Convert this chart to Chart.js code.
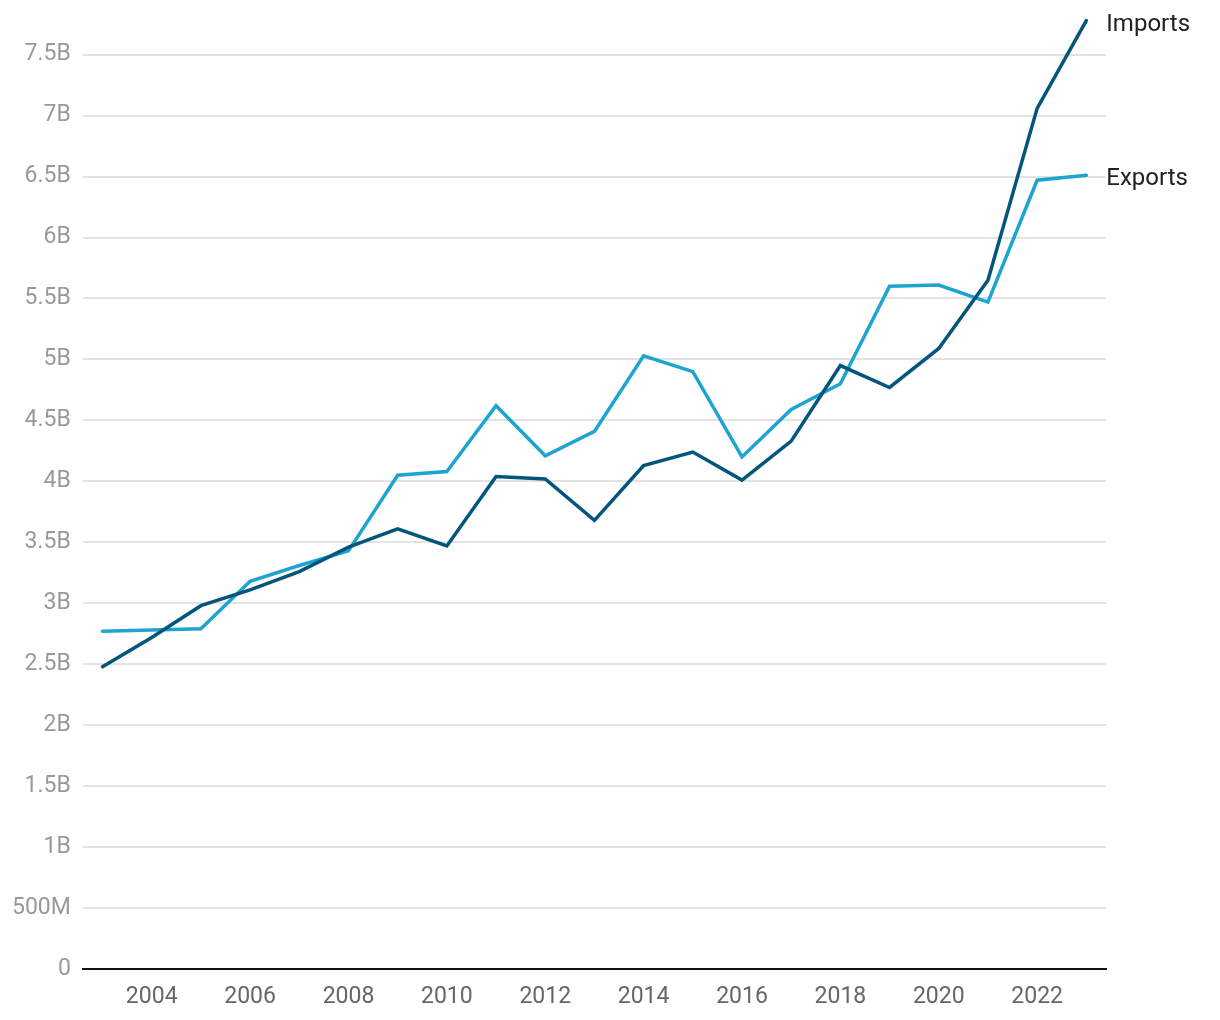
<!DOCTYPE html><html lang="en"><head><meta charset="UTF-8">
<title>Imports and Exports</title>
<script src="https://cdn.jsdelivr.net/npm/chart.js"></script>
<style>
    body {
        margin: 0;
        background: white;
    }
    .wrap {
        width: 1220px;
        height: 1020px;
        position: relative;
    }
</style>
</head>
<body>
    <div class="wrap"><canvas id="chart"></canvas></div>
    <script>
        // values in billions
        const years = [2003, 2004, 2005, 2006, 2007, 2008, 2009, 2010, 2011, 2012, 2013,
                       2014, 2015, 2016, 2017, 2018, 2019, 2020, 2021, 2022, 2023];
        const exportsB = [2.77, 2.78, 2.79, 3.18, 3.31, 3.43, 4.05, 4.08, 4.62, 4.21, 4.41,
                          5.03, 4.90, 4.20, 4.59, 4.80, 5.60, 5.61, 5.47, 6.47, 6.51];
        const importsB = [2.48, 2.72, 2.98, 3.11, 3.26, 3.46, 3.61, 3.47, 4.04, 4.02, 3.68,
                          4.13, 4.24, 4.01, 4.33, 4.95, 4.77, 5.09, 5.65, 7.06, 7.78];
        const xTicks = [2004, 2006, 2008, 2010, 2012, 2014, 2016, 2018, 2020, 2022];
        const yTicks = [0, 0.5, 1, 1.5, 2, 2.5, 3, 3.5, 4, 4.5, 5, 5.5, 6, 6.5, 7, 7.5];

        function fmt(v) {
            if (v === 0) return "0";
            if (v < 1) return Math.round(v * 1000) + "M";
            return v + "B";
        }

        const endLabels = {
            id: "endLabels",
            afterDatasetsDraw(chart) {
                const ctx = chart.ctx;
                ctx.save();
                ctx.font = "24px Roboto";
                ctx.fillStyle = "#222";
                ctx.textAlign = "left";
                ctx.textBaseline = "middle";
                chart.data.datasets.forEach((ds, i) => {
                    const pts = chart.getDatasetMeta(i).data;
                    const p = pts[pts.length - 1];
                    ctx.fillText(ds.label, p.x + 20, p.y + 4);
                });
                ctx.restore();
            }
        };

        new Chart(document.getElementById("chart"), {
            type: "line",
            data: {
                datasets: [
                    {
                        label: "Imports",
                        data: years.map((y, i) => ({x: y, y: importsB[i]})),
                        borderColor: "#03557c",
                        borderWidth: 3.5,
                        pointRadius: 0,
                        borderCapStyle: "round",
                        tension: 0
                    },
                    {
                        label: "Exports",
                        data: years.map((y, i) => ({x: y, y: exportsB[i]})),
                        borderColor: "#1ea4d1",
                        borderWidth: 3.5,
                        pointRadius: 0,
                        borderCapStyle: "round",
                        tension: 0
                    }
                ]
            },
            options: {
                responsive: true,
                maintainAspectRatio: false,
                animation: false,
                layout: {padding: {top: 12, right: 114, bottom: 0, left: 0}},
                plugins: {legend: {display: false}, tooltip: {enabled: false}},
                scales: {
                    x: {
                        type: "linear",
                        min: 2002.6,
                        max: 2023.4,
                        afterBuildTicks: s => { s.ticks = xTicks.map(v => ({value: v})); },
                        afterFit: s => { s.height = 51; },
                        grid: {display: false, drawTicks: false},
                        border: {display: true, color: "#111", width: 2},
                        ticks: {
                            color: "#666",
                            font: {family: "Roboto", size: 23},
                            padding: 14,
                            maxRotation: 0,
                            callback: v => String(v)
                        }
                    },
                    y: {
                        min: 0,
                        max: 7.85,
                        afterBuildTicks: s => { s.ticks = yTicks.map(v => ({value: v})); },
                        afterFit: s => { s.paddingTop = 0; },
                        grid: {color: "#e3e3e3", lineWidth: 2, drawTicks: false},
                        border: {display: false},
                        ticks: {
                            color: "#999",
                            font: {family: "Roboto", size: 23},
                            padding: 12,
                            callback: v => fmt(v)
                        }
                    }
                }
            },
            plugins: [endLabels]
        });
    </script>
</body>
</html>
